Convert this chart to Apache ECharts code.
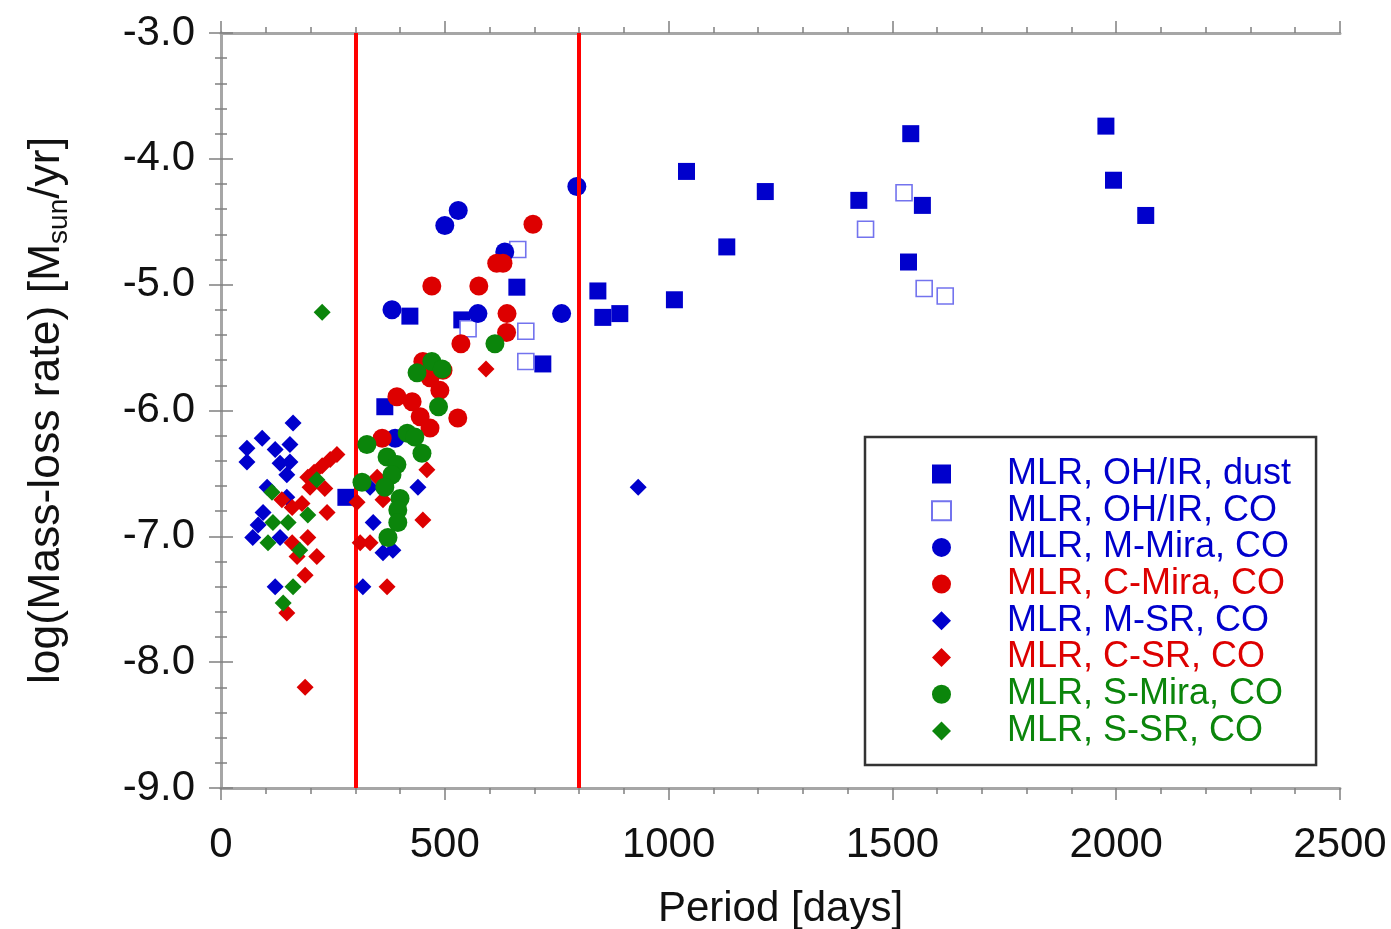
<!DOCTYPE html>
<html>
<head>
<meta charset="utf-8">
<script src="https://cdn.jsdelivr.net/npm/echarts@6/dist/echarts.min.js"></script>
<style>
html,body{margin:0;padding:0;background:#fff;}
#chart{width:1391px;height:929px;}
</style>
</head>
<body>
<div id="chart"></div>
<script>
// ---- data: [period (days), log(mass-loss rate)] ----
const ohirDust = [
  [1977,-3.74],[1994,-4.17],[2066,-4.45],[1541,-3.80],[1567,-4.37],[1536,-4.82],
  [1425,-4.33],[1216,-4.26],[1130,-4.70],[1040,-4.10],[1013,-5.12],[842,-5.05],
  [853,-5.26],[891,-5.23],[719,-5.63],[661,-5.02],[422,-5.25],[366,-5.97],
  [279,-6.69],[538,-5.28]
];
const ohirCO = [
  [1526,-4.27],[1440,-4.56],[1571,-5.03],[1618,-5.09],[663,-4.72],[681,-5.37],
  [681,-5.61],[552,-5.35]
];
const mMira = [
  [795,-4.22],[530,-4.41],[500,-4.53],[634,-4.74],[382,-5.20],[574,-5.23],
  [761,-5.23],[389,-6.22]
];
const cMira = [
  [697,-4.52],[616,-4.83],[630,-4.83],[471,-5.01],[576,-5.01],[639,-5.23],
  [638,-5.38],[536,-5.47],[451,-5.61],[496,-5.68],[467,-5.74],[393,-5.89],
  [427,-5.93],[489,-5.84],[445,-6.05],[467,-6.14],[529,-6.06],[360,-6.22]
];
const mSR = [
  [161,-6.10],[92,-6.22],[58,-6.30],[58,-6.41],[121,-6.31],[154,-6.27],
  [154,-6.41],[132,-6.42],[147,-6.51],[103,-6.61],[147,-6.69],[94,-6.81],
  [83,-6.91],[71,-7.01],[132,-7.01],[121,-7.40],[317,-7.40],[440,-6.61],
  [340,-6.89],[362,-7.13],[384,-7.11],[333,-6.61],[932,-6.61]
];
const cSR = [
  [259,-6.35],[244,-6.39],[226,-6.44],[208,-6.49],[194,-6.53],[199,-6.61],
  [232,-6.62],[136,-6.71],[159,-6.77],[181,-6.74],[237,-6.81],[194,-7.01],
  [159,-7.05],[170,-7.16],[214,-7.16],[188,-7.31],[147,-7.61],[188,-8.20],
  [304,-6.73],[311,-7.05],[333,-7.05],[371,-7.40],[362,-6.71],[460,-6.47],
  [451,-6.87],[592,-5.67],[349,-6.53]
];
const sMira = [
  [486,-5.97],[471,-5.61],[438,-5.70],[494,-5.67],[612,-5.47],[416,-6.18],
  [433,-6.21],[326,-6.27],[449,-6.34],[371,-6.37],[393,-6.43],[382,-6.51],
  [315,-6.57],[366,-6.61],[400,-6.70],[395,-6.79],[395,-6.89],[373,-7.01]
];
const sSR = [
  [226,-5.22],[214,-6.55],[114,-6.65],[194,-6.83],[116,-6.89],[150,-6.89],
  [105,-7.05],[176,-7.11],[161,-7.40],[139,-7.53]
];
const periodBoundaries = [300, 800];
const seriesNames = [
  'MLR, OH/IR, dust','MLR, OH/IR, CO','MLR, M-Mira, CO','MLR, C-Mira, CO',
  'MLR, M-SR, CO','MLR, C-SR, CO','MLR, S-Mira, CO','MLR, S-SR, CO'
];
const xTicks = {min:0, max:2500, interval:500};
const yTicks = {min:-9, max:-3, interval:1};

// ---- styling ----
const BLUE = '#0000cc', RED = '#dd0000', GREEN = '#0b850b', LBLUE = '#7373ee';
const FONT = '"Liberation Sans", Arial, Helvetica, sans-serif';
const seriesDefs = [
  {data: ohirDust, symbol:'rect', size:17, color:BLUE},
  {data: ohirCO, symbol:'rect', size:16, color:'#ffffff', border:LBLUE, text:BLUE},
  {data: mMira, symbol:'circle', size:19, color:BLUE},
  {data: cMira, symbol:'circle', size:19, color:RED},
  {data: mSR, symbol:'diamond', size:17, color:BLUE},
  {data: cSR, symbol:'diamond', size:17, color:RED},
  {data: sMira, symbol:'circle', size:19, color:GREEN},
  {data: sSR, symbol:'diamond', size:17, color:GREEN}
];

const axisLine = {show:true, lineStyle:{color:'#a6a6a6', width:3}};
const axisTick = {show:true, length:12, lineStyle:{color:'#808080', width:1.5}};
const minorTick = {show:true, splitNumber:5, length:6, lineStyle:{color:'#808080', width:1.5}};

const series = seriesDefs.map((d, i) => ({
  name: seriesNames[i],
  type: 'scatter',
  data: d.data,
  symbol: d.symbol,
  symbolSize: d.size,
  itemStyle: d.border ? {color:d.color, borderColor:d.border, borderWidth:1.6, opacity:1}
                      : {color:d.color, opacity:1},
  emphasis: {disabled:true},
  z: 2 + i
}));
series.push({
  type: 'line',
  data: [],
  silent: true,
  z: 20,
  markLine: {
    silent: true,
    symbol: ['none','none'],
    label: {show:false},
    lineStyle: {color:'#ff0000', width:4, type:'solid'},
    data: periodBoundaries.map(v => ({xAxis: v}))
  }
});

const chart = echarts.init(document.getElementById('chart'), null, {renderer:'canvas'});
chart.setOption({
  animation: false,
  backgroundColor: '#ffffff',
  textStyle: {fontFamily: FONT},
  grid: {left:221, right:51, top:33, bottom:141, containLabel:false, outerBoundsMode:'none'},
  xAxis: [
    {
      type:'value', position:'bottom', min:xTicks.min, max:xTicks.max, interval:xTicks.interval,
      axisLine, axisTick, minorTick, splitLine:{show:false},
      axisLabel:{show:true, margin:36, color:'#111', fontSize:42, fontFamily:FONT,
                 formatter: v => String(v)},
      name:'Period [days]', nameLocation:'middle', nameGap:100,
      nameTextStyle:{color:'#111', fontSize:42, fontFamily:FONT}
    },
    {
      type:'value', position:'top', min:xTicks.min, max:xTicks.max, interval:xTicks.interval,
      axisLine, axisTick, minorTick, splitLine:{show:false}, axisLabel:{show:false}
    }
  ],
  yAxis: [
    {
      type:'value', position:'left', min:yTicks.min, max:yTicks.max, interval:yTicks.interval,
      axisLine, axisTick, minorTick, splitLine:{show:false},
      axisLabel:{show:true, margin:26, color:'#111', fontSize:42, fontFamily:FONT,
                 formatter: v => v.toFixed(1)},
      name:'{a|log(Mass-loss rate) [M}{s|sun}{a|/yr]}', nameLocation:'middle', nameGap:148,
      nameTextStyle:{
        color:'#111', fontFamily:FONT,
        rich:{
          a:{fontSize:44.5, color:'#111', fontFamily:FONT, lineHeight:52, verticalAlign:'middle'},
          s:{fontSize:28, color:'#111', fontFamily:FONT, lineHeight:27, verticalAlign:'bottom'}
        }
      }
    },
    {
      type:'value', position:'right', min:yTicks.min, max:yTicks.max, interval:yTicks.interval,
      axisLine, axisTick, minorTick, splitLine:{show:false}, axisLabel:{show:false}
    }
  ],
  legend: {
    show: true,
    orient: 'vertical',
    left: 865,
    top: 437,
    padding: [19, 25, 16, 66],
    itemWidth: 19,
    itemHeight: 19,
    itemGap: 0.7,
    borderColor: '#333',
    borderWidth: 2.5,
    backgroundColor: '#ffffff',
    selectedMode: false,
    textStyle: {fontSize:36, fontFamily:FONT, lineHeight:36, padding:[0,0,0,51]},
    data: seriesNames.map((n, i) => ({
      name: n,
      textStyle: {color: seriesDefs[i].text || seriesDefs[i].color, padding:[0,0,0,51]}
    }))
  },
  series
});
</script>
</body>
</html>
